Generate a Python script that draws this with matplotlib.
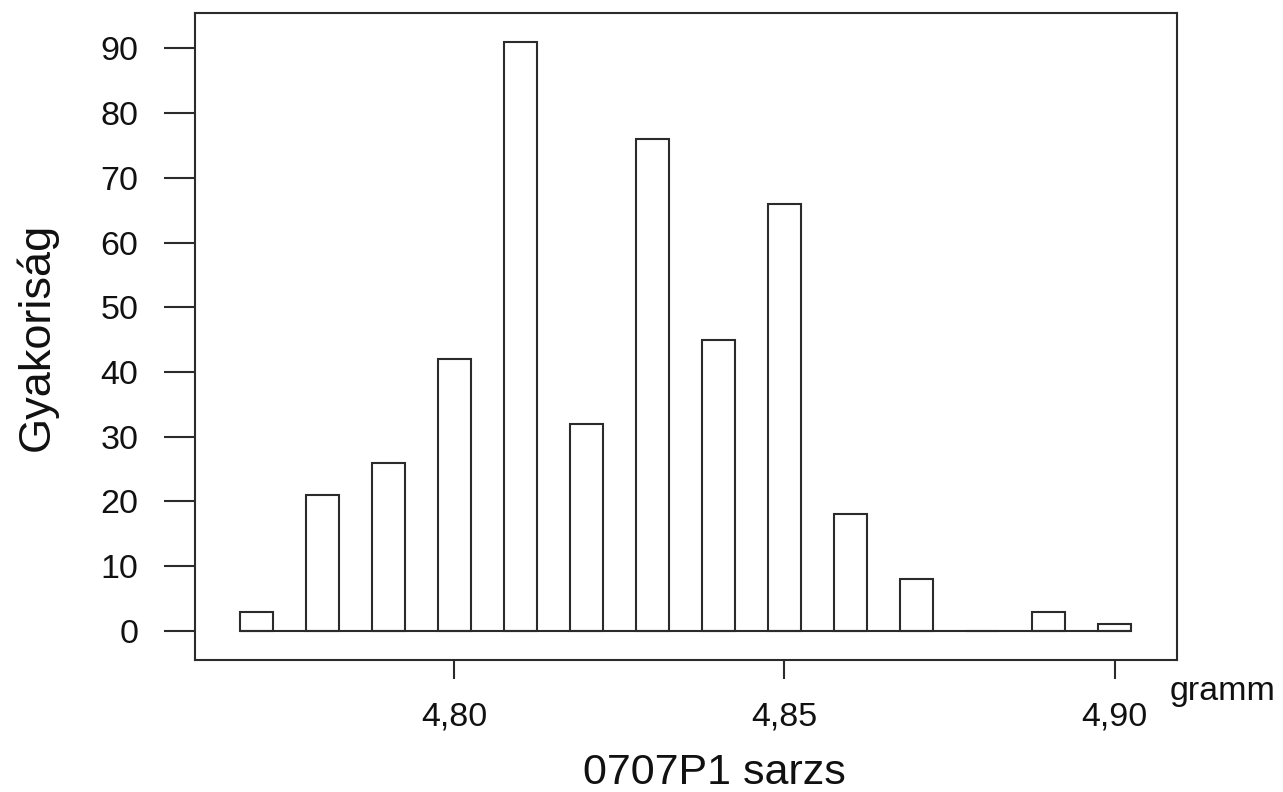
import numpy as np
import matplotlib.pyplot as plt

# adatok
suly = [4.77, 4.78, 4.79, 4.80, 4.81, 4.82, 4.83, 4.84, 4.85, 4.86, 4.87, 4.88, 4.89, 4.90]
gyakorisag = [3, 21, 26, 42, 91, 32, 76, 45, 66, 18, 8, 0, 3, 1]
xtick_vals = [4.80, 4.85, 4.90]
xtick_labels = ["4,80", "4,85", "4,90"]
ytick_vals = [0, 10, 20, 30, 40, 50, 60, 70, 80, 90]

plt.rcParams['font.family'] = ['Liberation Sans', 'DejaVu Sans']
szin = '#2b2b2b'
lw = 1.5

fig = plt.figure(figsize=(12.83, 7.92), dpi=100)
ax = fig.add_axes([0.1522, 0.1667, 0.9171 - 0.1522, 0.9832 - 0.1667])

w = 0.005
ax.bar(suly, gyakorisag, width=w, facecolor='white', edgecolor=szin, linewidth=lw)
ax.hlines(0, suly[0] - w / 2, suly[-1] + w / 2, color=szin, linewidth=lw)

ax.set_xlim(4.7608, 4.9094)
ax.set_ylim(-4.48, 95.4)

ax.set_xticks(xtick_vals)
ax.set_xticklabels(xtick_labels)
ax.set_yticks(ytick_vals)

for s in ax.spines.values():
    s.set_color(szin)
    s.set_linewidth(lw)

ax.tick_params(axis='x', direction='out', length=13.7, width=lw, color=szin,
               labelsize=24.5, pad=16, labelcolor='#111111')
ax.tick_params(axis='y', direction='out', length=22, width=lw, color=szin,
               labelsize=24.5, pad=19, labelcolor='#111111')

ax.set_xlabel("0707P1 sarzs", fontsize=31, color='#111111')
ax.xaxis.set_label_coords((714 - 195.3) / (1176.7 - 195.3), -(753 - 660) / (660 - 13.3))
ax.set_ylabel("Gyakoriság", fontsize=32.5, color='#111111')
ax.yaxis.set_label_coords(-(195.3 - 58) / (1176.7 - 195.3), 0.5)

fig.text(1170 / 1283, 1 - 700 / 792, "gramm", fontsize=24.5, color='#111111',
         ha='left', va='baseline')

fig.savefig("out.png", dpi=100)
